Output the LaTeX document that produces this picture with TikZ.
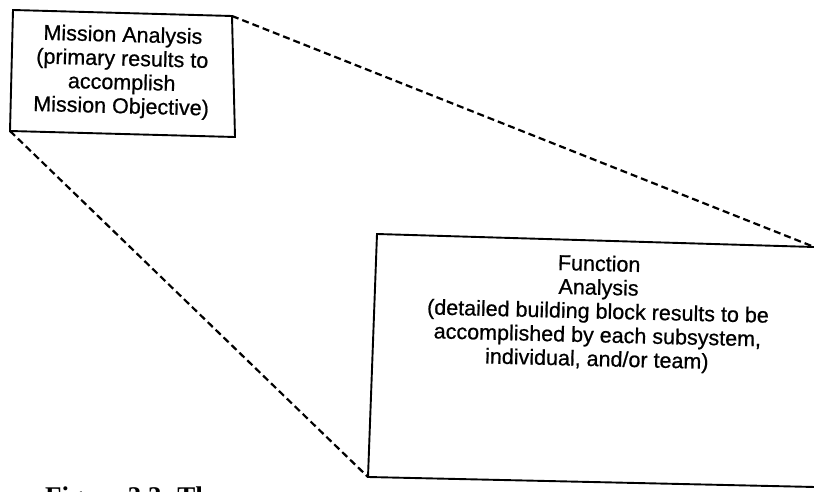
\documentclass[tikz,border=0pt]{standalone}
\usepackage{fontspec}
\setmainfont{Liberation Sans}[FakeBold=0.7]
\newfontfamily\capfont{Liberation Serif}
\begin{document}
\begin{tikzpicture}[x=1pt,y=-1pt,
  boxline/.style={line width=1.9pt,line join=miter},
  zoomline/.style={line width=2.2pt,dash pattern=on 7pt off 4pt},
  boxtext/.style={align=center,inner sep=0pt,font=\fontsize{21.5}{23.8}\selectfont}]
\useasboundingbox (0,0) rectangle (814,492);
\clip (0,0) rectangle (814,492);
\fill[white] (0,0) rectangle (814,492);

% corners of the mission box
\coordinate (m1) at (13,10);
\coordinate (m2) at (232,16);
\coordinate (m3) at (235,137);
\coordinate (m4) at (10,131);
% corners of the function box (right side runs past the page edge)
\coordinate (f1) at (377,234);
\coordinate (f2) at (824,247.3);
\coordinate (f3) at (824,487.2);
\coordinate (f4) at (368,477);
\coordinate (fc) at (813,246.5);

\draw[boxline] (m1) -- (m2) -- (m3) -- (m4) -- cycle;
\draw[boxline] (f1) -- (f2) -- (f3) -- (f4) -- cycle;

\node[boxtext,rotate=-1.5] (mission) at (122,72)
  {Mission Analysis\\(primary results to\\accomplish\\Mission Objective)};
\node[boxtext,rotate=-1.4] (function) at (598,313)
  {Function\\Analysis\\(detailed building block results to be\\accomplished by each subsystem,\\individual, and/or team)};

% zoom-out connectors between the two levels
\draw[zoomline] (m2) -- (fc);
\draw[zoomline] (m4) -- (f4);

% caption, cut by the lower page edge
\node[anchor=base west,inner sep=0pt,font=\capfont\bfseries\fontsize{27}{30}\selectfont] (caption) at (45,505) {Figure 3.3. Th};
\end{tikzpicture}
\end{document}
